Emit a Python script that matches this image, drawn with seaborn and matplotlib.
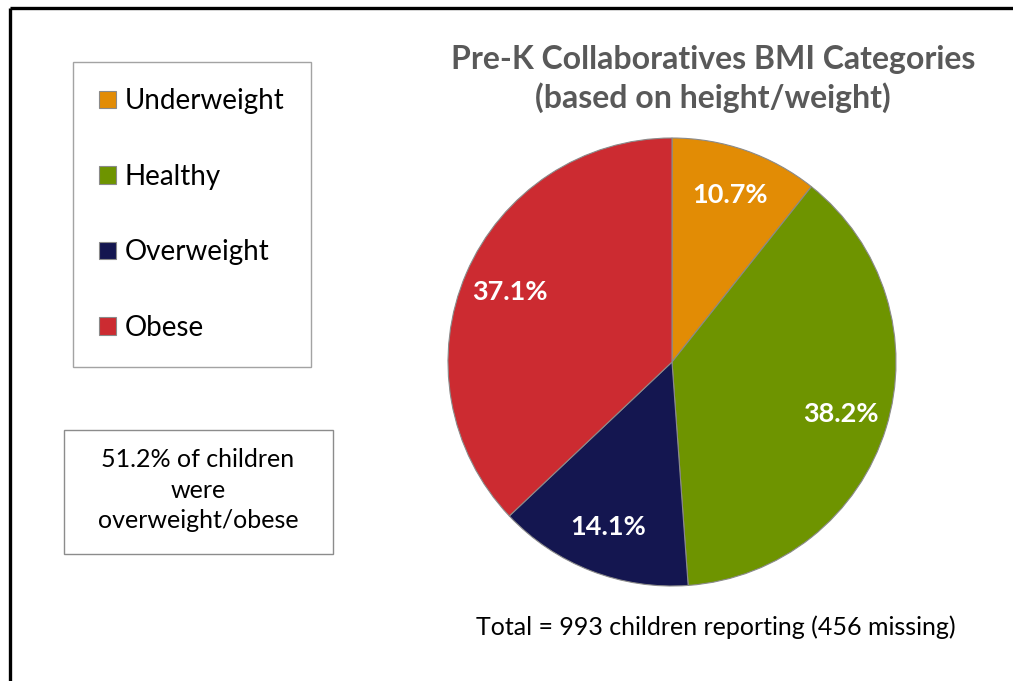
import matplotlib
matplotlib.use("Agg")
import matplotlib.pyplot as plt
import seaborn as sns
from matplotlib.lines import Line2D
from matplotlib.patches import Rectangle
import numpy as np

categories = ["Underweight", "Healthy", "Overweight", "Obese"]
values = [10.7, 38.2, 14.1, 37.1]
pct_labels = ["10.7%", "38.2%", "14.1%", "37.1%"]
colors = ["#E28C05", "#6E9400", "#141650", "#CC2B31"]
title = "Pre-K Collaboratives BMI Categories\n(based on height/weight)"
note = "51.2% of children\nwere\noverweight/obese"
footer = "Total = 993 children reporting (456 missing)"

sns.set_theme(style="white")
plt.rcParams['font.family'] = ['Lato', 'DejaVu Sans']

W, H = 1013, 681
fig = plt.figure(figsize=(W / 100, H / 100), dpi=100)
fig.patch.set_facecolor("white")

def fx(x): return x / W
def fy(y): return 1 - y / H

# pie axes: center (672,362), radius 224
cx, cy, r = 672, 362, 224
ax = fig.add_axes([fx(cx - r), fy(cy + r), 2 * r / W, 2 * r / H])
wedges, _ = ax.pie(values, colors=colors, startangle=90, counterclock=False,
                   radius=1.0, wedgeprops=dict(edgecolor="#8a8a8a", linewidth=0.8))
ax.set_xlim(-1, 1)
ax.set_ylim(-1, 1)
ax.set_aspect("auto")
ax.axis("off")

for w, lab in zip(wedges, pct_labels):
    ang = np.deg2rad((w.theta1 + w.theta2) / 2)
    d = 0.79
    ax.text(d * np.cos(ang), d * np.sin(ang), lab, ha="center", va="center",
            color="white", fontsize=19.5, fontweight="bold")

fig.text(fx(713), fy(79), title, ha="center", va="center", fontsize=23,
         fontweight="bold", color="#595959", linespacing=1.3)

fig.text(fx(716), fy(627), footer, ha="center", va="center", fontsize=18,
         color="black")

# legend
leg = fig.legend(wedges, categories, loc="upper left",
                 bbox_to_anchor=(fx(73), fy(62)), fontsize=20,
                 frameon=True, fancybox=False, edgecolor="#8c8c8c",
                 borderpad=0.95, labelspacing=1.78, handlelength=0.6,
                 handleheight=0.6, handletextpad=0.3, borderaxespad=0)
leg.get_frame().set_linewidth(1.0)
for t in leg.get_texts():
    t.set_color("black")

# note box
fig.add_artist(Rectangle((fx(64), fy(554)), (333 - 64) / W, (554 - 430) / H,
                         transform=fig.transFigure, facecolor="white",
                         edgecolor="#8c8c8c", linewidth=1.0))
fig.text(fx(198), fy(490), note, ha="center", va="center", fontsize=18,
         color="black", linespacing=1.42)

# outer frame (top and left edges visible)
fig.add_artist(Line2D([fx(9.5), 1.05], [fy(7.5), fy(7.5)], color="black",
                      linewidth=2.4, transform=fig.transFigure,
                      solid_capstyle="butt"))
fig.add_artist(Line2D([fx(9.5), fx(9.5)], [fy(7.5), -0.05], color="black",
                      linewidth=2.4, transform=fig.transFigure,
                      solid_capstyle="butt"))

fig.savefig("out.png", dpi=100, facecolor="white")
